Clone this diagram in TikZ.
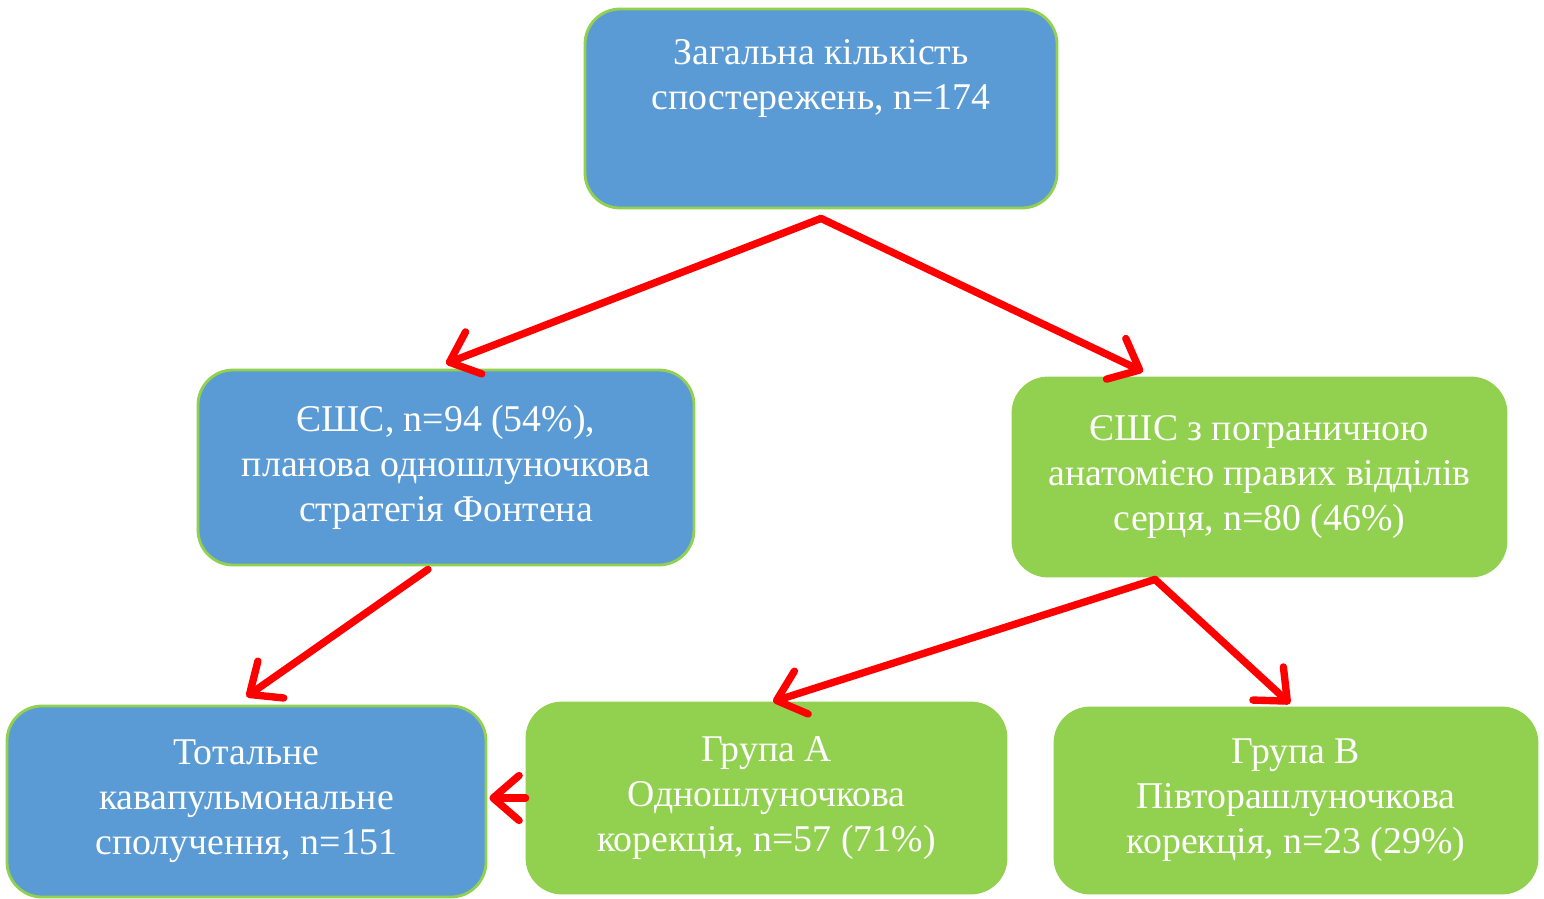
\documentclass[tikz,border=0pt]{standalone}
\usepackage{fontspec}
\setmainfont{Liberation Serif}
\usetikzlibrary{positioning, arrows.meta}
\definecolor{boxblue}{HTML}{5B9BD5}
\definecolor{boxgreen}{HTML}{92D050}

\begin{document}
\begin{tikzpicture}[
        bluebox/.style={draw=boxgreen, line width=1.6pt, fill=boxblue, rounded corners=0.7cm, text=white, align=center, font=\fontsize{21.5}{25.6}\selectfont},
        greenbox/.style={bluebox, fill=boxgreen},
        redarrow/.style={draw=red, line width=4.2pt, line cap=round, -{Straight Barb[length=0.52cm, width=0.9cm, line cap=round, line join=round]}}
    ]
        \useasboundingbox (0,0) rectangle (30.88,-17.98);
        \draw (16.42,-2.17) node[bluebox, minimum width=9.44cm, minimum height=3.98cm] (total) {Загальна кількість\\спостережень, n=174\\[0.46cm]\mbox{}};
        \draw (8.92,-9.35) node[bluebox, minimum width=9.92cm, minimum height=3.9cm] (plan) {ЄШС, n=94 (54\%),\\планова одношлуночкова\\стратегія Фонтена};
        \draw (25.19,-9.54) node[greenbox, minimum width=9.86cm, minimum height=3.96cm] (border) {ЄШС з пограничною\\анатомією правих відділів\\серця, n=80 (46\%)};
        \draw (4.93,-16.03) node[bluebox, minimum width=9.58cm, minimum height=3.82cm] (tcpc) {Тотальне\\кавапульмональне\\сполучення, n=151};
        \draw (15.33,-15.96) node[greenbox, minimum width=9.58cm, minimum height=3.8cm] (groupA) {Група А\\Одношлуночкова\\корекція, n=57 (71\%)};
        \draw (25.92,-16.01) node[greenbox, minimum width=9.64cm, minimum height=3.7cm] (groupB) {Група В\\Півторашлуночкова\\корекція, n=23 (29\%)};
        % red arrows between the boxes
        \draw[redarrow] ([yshift=-0.18cm]total.south) -- ([yshift=0.1cm]plan.north);
        \draw[redarrow] ([yshift=-0.18cm]total.south) -- ([xshift=-2.33cm, yshift=0.1cm]border.north);
        \draw[redarrow] ([xshift=-0.36cm, yshift=-0.06cm]plan.south) -- ([yshift=0.16cm]tcpc.north);
        \draw[redarrow] ([xshift=-2.09cm, yshift=-0.04cm]border.south) -- ([xshift=0.13cm]groupA.north);
        \draw[redarrow] ([xshift=-2.09cm, yshift=-0.04cm]border.south) -- ([xshift=-0.12cm, yshift=0.06cm]groupB.north);
        \draw[redarrow] (groupA.west) -- ([xshift=0.04cm]tcpc.east |- groupA.west);
    \end{tikzpicture}
\end{document}
